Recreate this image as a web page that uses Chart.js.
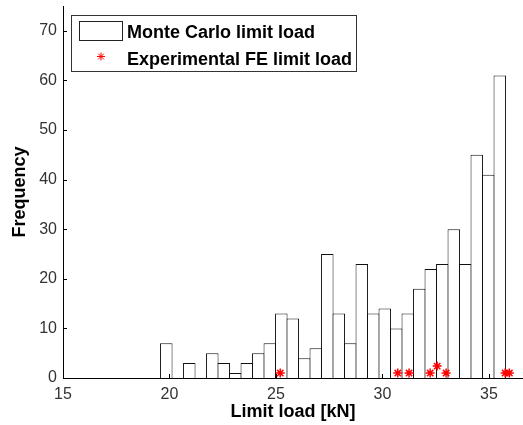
<!DOCTYPE html>
<html><head><meta charset="utf-8">
<script src="https://cdn.jsdelivr.net/npm/chart.js@4.4.0/dist/chart.umd.min.js"></script>
<style>html,body{margin:0;padding:0;background:#fff}#wrap{width:523px;height:425px;position:relative}</style>
</head><body><div id="wrap"><canvas id="c"></canvas></div>
<script>
// ---- data ----
const binCenters = [19.85, 20.39, 20.93, 21.47, 22.01, 22.55, 23.09, 23.63, 24.17, 24.71,
                    25.25, 25.79, 26.33, 26.87, 27.41, 27.95, 28.49, 29.03, 29.57, 30.11,
                    30.65, 31.19, 31.73, 32.27, 32.81, 33.35, 33.89, 34.43, 34.97, 35.51];
const counts = [7, 0, 3, 0, 5, 3, 1, 3, 5, 7,
                13, 12, 4, 6, 25, 13, 7, 23, 13, 14,
                10, 13, 18, 22, 23, 30, 23, 45, 41, 61];
const expLoads  = [25.20, 30.72, 31.25, 32.24, 32.57, 32.99, 35.76, 35.96];
const expLevels = [1, 1, 1, 1, 2.4, 1, 1, 1];
const xTicks = [15, 20, 25, 30, 35];
const yTicks = [0, 10, 20, 30, 40, 50, 60, 70];
const seriesNames = ['Monte Carlo limit load', 'Experimental FE limit load'];
const xTitle = 'Limit load [kN]';
const yTitle = 'Frequency';

const FONT = "'Liberation Sans', Arial, Helvetica, sans-serif";

const inwardTicks = {
  id: 'inwardTicks',
  afterDraw(chart) {
    const ctx = chart.ctx, xs = chart.scales.x, ys = chart.scales.y, a = chart.chartArea;
    ctx.save();
    ctx.strokeStyle = '#000';
    ctx.lineWidth = 1;
    ctx.beginPath();
    xs.ticks.forEach(t => {
      const px = Math.round(xs.getPixelForValue(t.value)) + 0.5;
      ctx.moveTo(px, a.bottom); ctx.lineTo(px, a.bottom - 4);
    });
    ys.ticks.forEach(t => {
      const py = Math.round(ys.getPixelForValue(t.value)) + 0.5;
      ctx.moveTo(a.left, py); ctx.lineTo(a.left + 4, py);
    });
    ctx.stroke();
    ctx.restore();
  }
};

const boxLegend = {
  id: 'boxLegend',
  afterDraw(chart) {
    const ctx = chart.ctx;
    ctx.save();
    ctx.fillStyle = '#fff';
    ctx.fillRect(71, 15, 286, 57);
    ctx.strokeStyle = '#333';
    ctx.lineWidth = 1;
    ctx.strokeRect(71.5, 15.5, 285, 56);
    ctx.strokeStyle = '#222';
    ctx.strokeRect(79.5, 21.5, 43, 19);
    ctx.strokeStyle = '#ff0000';
    ctx.fillStyle = '#ff0000';
    Chart.helpers.drawPoint(ctx, {pointStyle: 'star', radius: 4, borderWidth: 1.5}, 101, 56.5);
    ctx.fillStyle = '#000';
    ctx.font = 'bold 18px ' + FONT;
    ctx.textBaseline = 'alphabetic';
    ctx.textAlign = 'left';
    ctx.fillText(seriesNames[0], 127, 37.5);
    ctx.fillText(seriesNames[1], 127, 65);
    ctx.restore();
  }
};

new Chart(document.getElementById('c'), {
  type: 'bar',
  data: {
    datasets: [
      {
        type: 'line',
        label: seriesNames[1],
        data: expLoads.map((v, i) => ({x: v, y: expLevels[i]})),
        showLine: false,
        pointStyle: 'star',
        pointRadius: 4.5,
        pointBorderWidth: 1.5,
        pointBorderColor: '#ff0000',
        pointBackgroundColor: '#ff0000',
        clip: false,
        order: 0
      },
      {
        type: 'bar',
        label: seriesNames[0],
        data: binCenters.map((v, i) => ({x: v, y: counts[i]})),
        backgroundColor: '#ffffff',
        borderColor: '#111',
        borderWidth: 1,
        borderSkipped: 'start',
        categoryPercentage: 1,
        barPercentage: 1.087,
        order: 1
      }
    ]
  },
  options: {
    responsive: true,
    maintainAspectRatio: false,
    animation: false,
    events: [],
    layout: {autoPadding: false, padding: {top: 6, right: 0, left: 0, bottom: 0}},
    plugins: {legend: {display: false}, tooltip: {enabled: false}},
    scales: {
      x: {
        type: 'linear',
        offset: false,
        min: 15, max: 36.6,
        afterBuildTicks: s => { s.ticks = xTicks.map(v => ({value: v})); },
        afterFit: s => { s.height = 47; s.paddingLeft = 0; s.paddingRight = 0; },
        grid: {display: false, drawTicks: false, offset: false},
        border: {display: true, color: '#000', width: 1},
        ticks: {color: '#333', font: {family: FONT, size: 16}, padding: 7, maxRotation: 0, autoSkip: false},
        title: {display: true, text: xTitle, color: '#000', font: {family: FONT, size: 18, weight: 'bold'}, padding: {top: 0, bottom: 2}}
      },
      y: {
        type: 'linear',
        min: 0, max: 75,
        afterBuildTicks: s => { s.ticks = yTicks.map(v => ({value: v})); },
        afterFit: s => { s.width = 63; s.paddingTop = 0; s.paddingBottom = 0; },
        grid: {display: false, drawTicks: false},
        border: {display: true, color: '#000', width: 1},
        ticks: {color: '#333', font: {family: FONT, size: 16}, padding: 6, autoSkip: false},
        title: {display: true, text: yTitle, color: '#000', font: {family: FONT, size: 18, weight: 'bold'}, padding: {top: 9, bottom: 0}}
      }
    }
  },
  plugins: [inwardTicks, boxLegend]
});
</script>
</body></html>
